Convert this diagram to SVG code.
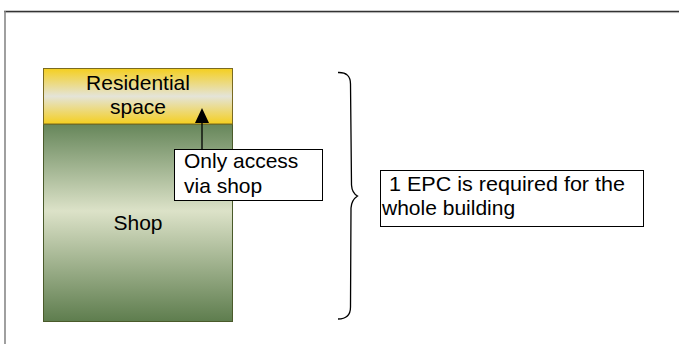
<svg xmlns="http://www.w3.org/2000/svg" width="679" height="344" viewBox="0 0 679 344">
<style>
.t{font-family:"Liberation Sans",Arial,sans-serif;font-size:21px;fill:#000}
.t2{font-family:"Liberation Sans",Arial,sans-serif;font-size:21px;fill:#000}
.box{fill:#fff;stroke:#000;stroke-width:1}
.edge{stroke:#000;stroke-width:1.3;fill:none}
</style>
<defs>
<linearGradient id="gRes" x1="0" y1="0" x2="0" y2="1">
<stop offset="0" stop-color="#F5CF1F"/>
<stop offset="0.5" stop-color="#E4E4D8"/>
<stop offset="1" stop-color="#F5CF1F"/>
</linearGradient>
<linearGradient id="gShop" x1="0" y1="0" x2="0" y2="1">
<stop offset="0" stop-color="#66865A"/>
<stop offset="0.44" stop-color="#DCE2C8"/>
<stop offset="1" stop-color="#5E7D4E"/>
</linearGradient>
</defs>
<g id="frame">
<line x1="4" y1="11.5" x2="679" y2="11.5" stroke="#333" stroke-width="1.3"/>
<line x1="5" y1="12.6" x2="679" y2="12.6" stroke="#aaa" stroke-width="0.8"/>
<line x1="5" y1="11" x2="5" y2="344" stroke="#888" stroke-width="1.6"/>
</g>
<g id="shop">
<rect x="43.5" y="124" width="189" height="197.5" fill="url(#gShop)" stroke="#4A5A2A" stroke-width="1"/>
<text class="t" x="138" y="230" text-anchor="middle">Shop</text>
</g>
<g id="residential">
<rect x="43.5" y="68.5" width="189" height="55.5" fill="url(#gRes)" stroke="#7A6A20" stroke-width="1"/>
<text class="t" x="138" y="90" text-anchor="middle">Residential</text>
<text class="t" x="138" y="114" text-anchor="middle">space</text>
</g>
<g id="connectors">
<path class="edge" d="M202,149 L202,123"/>
<path d="M195,123 L202,108 L209,123 Z" fill="#000"/>
<path class="edge" d="M338,72.5 Q350.5,72 350.5,84 L351.5,185 Q352,193 357.5,196 Q351.5,200 351,208 L350.5,307 Q350.5,319 338,319"/>
</g>
<g id="access">
<rect class="box" x="174.5" y="149.5" width="148" height="51"/>
<text class="t" x="184" y="168">Only access</text>
<text class="t" x="184" y="193">via shop</text>
</g>
<g id="epc">
<rect class="box" x="380.5" y="170.5" width="263" height="56"/>
<text class="t2" x="389" y="190.5" textLength="236" lengthAdjust="spacingAndGlyphs">1 EPC is required for the</text>
<text class="t2" x="382" y="214.5">whole building</text>
</g>
</svg>
